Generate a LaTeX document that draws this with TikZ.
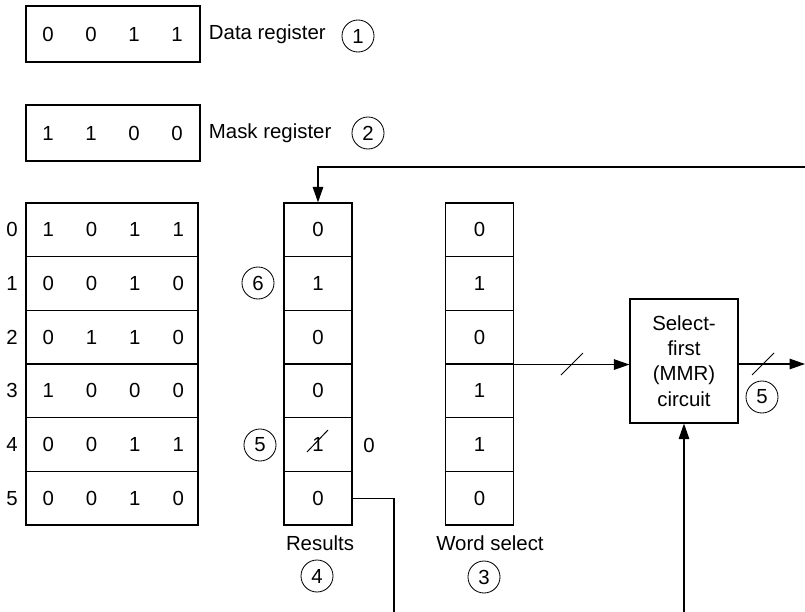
\documentclass[tikz,border=0pt]{standalone}
\usepackage{fontspec}
\setmainfont{Liberation Sans}
\usetikzlibrary{arrows.meta}

\tikzset{
  box/.style={draw, line width=0.8pt, inner sep=0pt},
  regbox/.style={box, minimum width=4.35cm, minimum height=1.4cm},
  wordbox/.style={box, minimum width=4.3cm, minimum height=1.342cm},
  bitbox/.style={box, minimum width=1.7cm, minimum height=1.342cm},
  stepno/.style={circle, draw, line width=0.6pt, inner sep=0pt, minimum size=0.8cm},
  link/.style={line width=0.8pt},
  flow/.style={link, -{Triangle[length=11pt,width=7.5pt]}},
  slash/.style={line width=0.7pt},
}

\begin{document}
\begin{tikzpicture}[x=0.025cm, y=-0.025cm, font=\fontsize{14.5}{18}\selectfont]
    \useasboundingbox (0,0) rectangle (805,612);

    % Registers
    \node[regbox] (data) at (113,34) {};
    \node[regbox] (mask) at (113,133) {};
    \foreach \b [count=\i] in {0,0,1,1}
        \node at ({5+43*\i},34) {\b};
    \foreach \b [count=\i] in {1,1,0,0}
        \node at ({5+43*\i},133) {\b};
    \node[anchor=west] (datalbl) at (204,34) {Data register};
    \node[stepno] (s1) at (358,36) {1};
    \node[anchor=west] (masklbl) at (204,133) {Mask register};
    \node[stepno] (s2) at (368,133) {2};

    % Memory words
    \foreach \w [count=\r from 0] in {{1,0,1,1},{0,0,1,0},{0,1,1,0},{1,0,0,0},{0,0,1,1},{0,0,1,0}} {
        \node[wordbox] (word\r) at (112,{229.8+53.67*\r}) {};
        \node (addr\r) at (12,{229.8+53.67*\r}) {\r};
        \foreach \b [count=\i] in \w
            \node at ({5+43.3*\i},{229.8+53.67*\r}) {\b};
    }

    % Results and word select columns
    \foreach \b [count=\r from 0] in {0,1,0,0,1,0}
        \node[bitbox] (res\r) at (318,{229.8+53.67*\r}) {\b};
    \foreach \b [count=\r from 0] in {0,1,0,1,1,0}
        \node[bitbox] (ws\r) at (479.5,{229.8+53.67*\r}) {\b};
    \draw[slash] (307,452) -- (328,430);
    \node (cleared) at (369,445) {0};
    \node[stepno] (s6) at (258,283) {6};
    \node[stepno] (s5a) at (260,445) {5};
    \node (reslbl) at (320,543) {Results};
    \node[stepno] (s4) at (317,576) {4};
    \node (wslbl) at (490,543) {Word select};
    \node[stepno] (s3) at (484,577) {3};

    % Select-first circuit
    \node[box, minimum width=2.7cm, minimum height=3.1cm, align=center] (mmr) at (684,361)
        {Select-\\first\\(MMR)\\circuit};
    \node[stepno] (s5b) at (762,397) {5};

    % Connections
    \coordinate (fbin) at (805,167);
    \coordinate (out) at (805,364);
    \coordinate (mmrin) at (684,612);
    \coordinate (resout) at (394,612);
    \draw[flow] (fbin) -| (res0.north);
    \draw[flow] (ws2.south east) -- (ws2.south east -| mmr.west);
    \draw[flow] (mmr.east |- out) -- (out);
    \draw[flow] (mmrin) -- (mmr.south);
    \draw[link] (res5.east) -| (resout);
    \draw[slash] (561,375) -- (583,353);
    \draw[slash] (752,375) -- (774,353);
\end{tikzpicture}
\end{document}
